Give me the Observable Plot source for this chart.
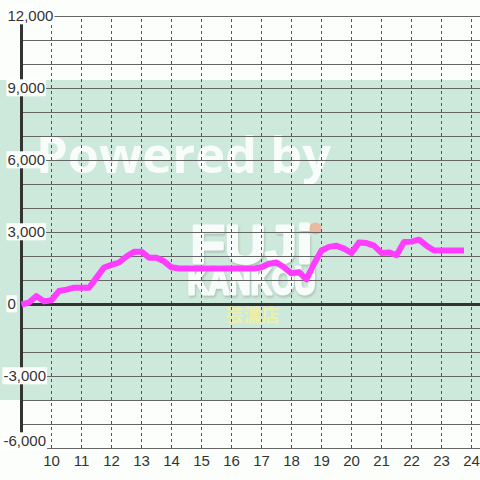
<!DOCTYPE html>
<html>
<head>
<meta charset="utf-8">
<script src="https://cdn.jsdelivr.net/npm/d3@7"></script>
<script src="https://cdn.jsdelivr.net/npm/@observablehq/plot@0.6"></script>
<style>
  html, body { margin: 0; padding: 0; background: #fcfefc; }
  #chart { width: 480px; height: 480px; }
</style>
</head>
<body>
<div id="chart"></div>
<script>
// ---- data ----
const hourTicks = [10, 11, 12, 13, 14, 15, 16, 17, 18, 19, 20, 21, 22, 23, 24];
const yTicks = [-6000, -3000, 0, 3000, 6000, 9000, 12000];
const yGrid = [-6000, -5000, -4000, -3000, -2000, -1000, 0, 1000, 2000, 3000, 4000, 5000,
               6000, 7000, 8000, 9000, 10000, 11000, 12000];
const times = [9, 9.25, 9.5, 9.75, 10, 10.25, 10.5, 10.75, 11, 11.25, 11.5, 11.75,
               12, 12.25, 12.5, 12.75, 13, 13.25, 13.5, 13.75, 14, 14.25, 14.5, 14.75,
               15, 15.25, 15.5, 15.75, 16, 16.25, 16.5, 16.75, 17, 17.25, 17.5, 17.75,
               18, 18.25, 18.5, 18.75, 19, 19.25, 19.5, 19.75, 20, 20.25, 20.5, 20.75,
               21, 21.25, 21.5, 21.75, 22, 22.25, 22.5, 22.75, 23, 23.25, 23.5, 23.75];
const values = [0, 80, 350, 130, 180, 560, 620, 700, 700, 700, 1120, 1540,
                1650, 1750, 2000, 2200, 2200, 1950, 1950, 1800, 1550, 1500, 1500, 1500,
                1500, 1500, 1500, 1500, 1500, 1500, 1500, 1500, 1550, 1700, 1750, 1550,
                1300, 1350, 1050, 1700, 2250, 2400, 2450, 2330, 2150, 2580, 2560, 2450,
                2150, 2170, 2050, 2600, 2620, 2700, 2450, 2250, 2250, 2250, 2250, 2250];
const axisHour = 9;
const band = [{lo: -4000, hi: 9333}];

const series = times.map((t, i) => ({t, v: values[i]}));
const fmt = d => (d < 0 ? "-" : "") + d3.format(",")(Math.abs(d));

const font = "'Liberation Sans', Arial, sans-serif";
const yMin = d3.min(yTicks);

const chart = Plot.plot({
  width: 480,
  height: 480,
  marginTop: 0, marginRight: 0, marginBottom: 0, marginLeft: 0,
  x: {domain: [8.3, 24.3], range: [0, 480], axis: null},
  y: {domain: [-7333.33, 12666.67], range: [480, 0], axis: null},
  style: {background: "#fcfefc", fontFamily: font},
  marks: [
    // green band
    Plot.rect(band, {x1: () => 8.3, x2: () => 24.3, y1: "lo", y2: "hi", fill: "#cce9db"}),
    // watermark
    Plot.text(["Powered by"], {text: d => d, frameAnchor: "top-left", dx: 183, dy: 172,
      textAnchor: "middle", lineAnchor: "bottom", fontSize: 50, fontWeight: "bold",
      fontFamily: "'Open Sans', sans-serif", fill: "white", fillOpacity: 0.85}),
    Plot.text(["FUJi"], {text: d => d, frameAnchor: "top-left", dx: 251, dy: 262,
      textAnchor: "middle", lineAnchor: "bottom", fontSize: 54, fontWeight: "bold",
      fontFamily: font, fill: "white", stroke: "white", strokeWidth: 3, opacity: 0.85}),
    Plot.dot([0], {frameAnchor: "top-left", dx: 315, dy: 228, r: 6, fill: "#f5a88f", fillOpacity: 0.75}),
    Plot.text(["芸濃店"], {text: d => d, frameAnchor: "top-left", dx: 252, dy: 316,
      textAnchor: "middle", lineAnchor: "middle", fontSize: 18, fontWeight: "bold",
      fontFamily: "'Noto Sans CJK JP', sans-serif", fill: "#f2f0a2", fillOpacity: 0.9}),
    // horizontal grid
    Plot.ruleY(yGrid, {x1: () => axisHour, x2: () => 24.3, stroke: "#666", strokeWidth: 1, strokeOpacity: 1}),
    // vertical dashed grid
    Plot.ruleX(hourTicks, {y1: () => -6000, y2: () => 12000, stroke: "#555", strokeWidth: 1,
      strokeDasharray: "3,3", strokeOpacity: 1}),
    // zero line
    Plot.ruleY([0], {x1: () => axisHour, x2: () => 24.3, stroke: "#333", strokeWidth: 3, strokeOpacity: 1}),
    // y axis line
    Plot.ruleX([axisHour], {y1: () => -6000, y2: () => 12000, stroke: "#333", strokeWidth: 3, strokeOpacity: 1}),
    // data
    Plot.line(series, {x: "t", y: "v", stroke: "#ff3cff", strokeWidth: 6, strokeLinejoin: "round", strokeLinecap: "butt"}),
    // y labels
    Plot.text(yTicks.filter(d => d >= 0), {y: d => d, text: fmt, frameAnchor: "left", dx: 7,
      textAnchor: "start", lineAnchor: "middle", fontSize: 15, fill: "#333"}),
    Plot.text(yTicks.filter(d => d < 0 && d > yMin), {y: d => d, text: fmt, frameAnchor: "left", dx: 3,
      textAnchor: "start", lineAnchor: "middle", fontSize: 15, fill: "#333"}),
    Plot.text([yMin], {y: d => d, text: fmt, frameAnchor: "left", dx: 3, dy: -7,
      textAnchor: "start", lineAnchor: "middle", fontSize: 15, fill: "#333"}),
    // x labels
    Plot.text(hourTicks, {x: d => d, y: () => -6000, text: d => String(d), dy: 13,
      textAnchor: "middle", lineAnchor: "middle", fontSize: 15, fill: "#333"})
  ]
});

document.getElementById("chart").appendChild(chart);

const NS = "http://www.w3.org/2000/svg";
const yLabelSet = new Set(yTicks.map(fmt));
const allTexts = Array.from(chart.querySelectorAll("text"));
// white boxes behind y labels
allTexts.filter(t => yLabelSet.has(t.textContent)).forEach(t => {
  const b = t.getBBox();
  const r = document.createElementNS(NS, "rect");
  r.setAttribute("x", b.x - 1);
  r.setAttribute("y", b.y);
  r.setAttribute("width", b.width + 2);
  r.setAttribute("height", b.height);
  r.setAttribute("fill", "white");
  const tr = t.getAttribute("transform");
  if (tr) r.setAttribute("transform", tr);
  t.parentNode.insertBefore(r, t);
});
// logo: two lines in one text element
const logo = allTexts.find(t => t.textContent === "FUJi");
if (logo) {
  logo.textContent = "";
  const t1 = document.createElementNS(NS, "tspan");
  t1.textContent = "FUJi";
  t1.setAttribute("x", 0);
  t1.setAttribute("textLength", 122);
  t1.setAttribute("lengthAdjust", "spacingAndGlyphs");
  const t2 = document.createElementNS(NS, "tspan");
  t2.textContent = "KANKOU";
  t2.setAttribute("x", 0);
  t2.setAttribute("dy", 31);
  t2.setAttribute("font-size", 39);
  t2.setAttribute("textLength", 128);
  t2.setAttribute("lengthAdjust", "spacingAndGlyphs");
  logo.appendChild(t1);
  logo.appendChild(t2);
  logo.style.filter = "drop-shadow(1px 2px 1px rgba(0,0,0,0.18))";
}
const pw = allTexts.find(t => t.textContent === "Powered by");
if (pw) { pw.setAttribute("textLength", 295); pw.setAttribute("lengthAdjust", "spacingAndGlyphs"); }
</script>
</body>
</html>
